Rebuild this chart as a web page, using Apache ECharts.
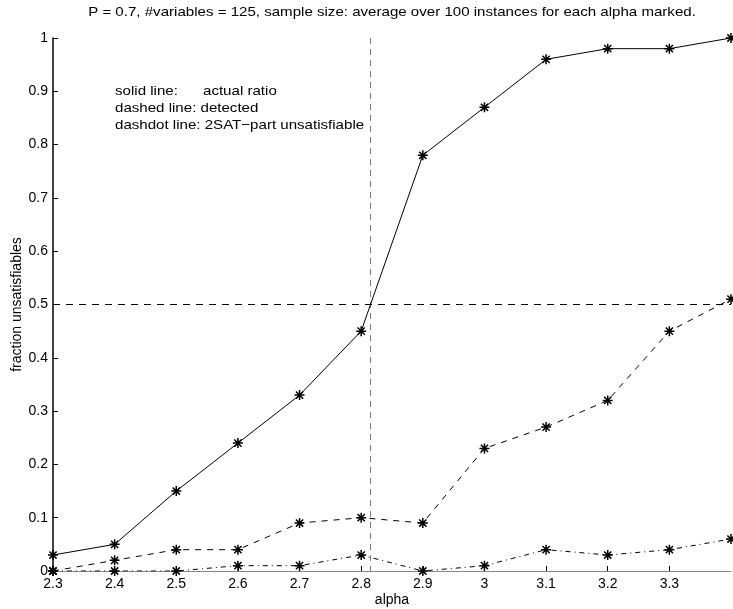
<!DOCTYPE html>
<html>
<head>
<meta charset="utf-8">
<script src="https://cdn.jsdelivr.net/npm/echarts@6/dist/echarts.min.js"></script>
<style>
html,body{margin:0;padding:0;background:#fff;}
#chart{width:733px;height:609px;}
</style>
</head>
<body>
<div id="chart"></div>
<script>
var alphas = [2.3, 2.4, 2.5, 2.6, 2.7, 2.8, 2.9, 3.0, 3.1, 3.2, 3.3, 3.4];
var actualRatio = [0.03, 0.05, 0.15, 0.24, 0.33, 0.45, 0.78, 0.87, 0.96, 0.98, 0.98, 1.0];
var detected = [0.0, 0.02, 0.04, 0.04, 0.09, 0.10, 0.09, 0.23, 0.27, 0.32, 0.45, 0.51];
var twoSatUnsat = [0.0, 0.0, 0.0, 0.01, 0.01, 0.03, 0.0, 0.01, 0.04, 0.03, 0.04, 0.06];
var halfLevel = 0.5;
var crossAlpha = 2.8152;
var titleText = 'P = 0.7, #variables = 125, sample size: average over 100 instances for each alpha marked.';
var notes = ['solid line:      actual ratio', 'dashed line: detected', 'dashdot line: 2SAT\u2212part unsatisfiable'];

function pairs(xs, ys) { return xs.map(function (x, i) { return [x, ys[i]]; }); }

var star = 'path://M0,-5L0,5M-5,0L5,0M-3.6,-3.6L3.6,3.6M-3.6,3.6L3.6,-3.6';
var font = 'Liberation Sans, Arial, sans-serif';

function lineSeries(data, type) {
  return {
    type: 'line',
    data: data,
    symbol: star,
    symbolSize: 10,
    showSymbol: true,
    animation: false,
    itemStyle: { color: 'transparent', borderColor: '#000', borderWidth: 1.5 },
    lineStyle: { color: '#000', width: 1, type: type },
    z: 3
  };
}

var graphics = [{
  type: 'text', x: 392, y: 12, scaleX: 1.16,
  style: { text: titleText, fontFamily: font, fontSize: 13, fill: '#000', align: 'center', verticalAlign: 'middle' }
}].concat(notes.map(function (t, i) {
  return {
    type: 'text', x: 115, y: 91 + i * 17, scaleX: 1.16,
    style: { text: t, fontFamily: font, fontSize: 13, fill: '#000', align: 'left', verticalAlign: 'middle' }
  };
}));

var chart = echarts.init(document.getElementById('chart'), null, { renderer: 'canvas' });
chart.setOption({
  backgroundColor: '#fff',
  animation: false,
  graphic: graphics,
  grid: { left: 53, right: 2, top: 38, bottom: 38, containLabel: false, outerBoundsMode: 'none' },
  xAxis: {
    type: 'value', min: 2.3, max: 3.4, interval: 0.1,
    name: 'alpha', nameLocation: 'middle', nameGap: 22, nameMoveOverlap: false,
    nameTextStyle: { fontFamily: font, fontSize: 14, color: '#000' },
    axisLine: { show: true, lineStyle: { color: '#888', width: 1 } },
    axisTick: { show: true, inside: true, length: 5, lineStyle: { color: '#000' } },
    splitLine: { show: false },
    axisLabel: {
      fontFamily: font, fontSize: 14, color: '#000', margin: 6,
      showMaxLabel: false,
      formatter: function (v) { return v > 3.35 ? '' : String(+v.toFixed(1)); }
    }
  },
  yAxis: {
    type: 'value', min: 0, max: 1, interval: 0.1,
    name: 'fraction unsatisfiables', nameLocation: 'middle', nameGap: 29, nameRotate: 90, nameMoveOverlap: false,
    nameTextStyle: { fontFamily: font, fontSize: 14, color: '#000' },
    axisLine: { show: true, lineStyle: { color: '#000', width: 1.5 } },
    axisTick: { show: true, inside: true, length: 5, lineStyle: { color: '#000' } },
    splitLine: { show: false },
    axisLabel: {
      fontFamily: font, fontSize: 14, color: '#000', margin: 5,
      formatter: function (v) { return String(+v.toFixed(1)); }
    }
  },
  series: [
    lineSeries(pairs(alphas, actualRatio), 'solid'),
    lineSeries(pairs(alphas, detected), [6, 6]),
    lineSeries(pairs(alphas, twoSatUnsat), [5, 4, 1, 4]),
    {
      type: 'line', data: [[alphas[0], halfLevel], [alphas[alphas.length - 1], halfLevel]],
      symbol: 'none', animation: false,
      lineStyle: { color: '#000', width: 1, type: [7, 6] }, z: 2
    },
    {
      type: 'line', data: [[crossAlpha, 1], [crossAlpha, 0]],
      symbol: 'none', animation: false,
      lineStyle: { color: '#777', width: 1, type: [6, 5] }, z: 2
    }
  ]
});
</script>
</body>
</html>
